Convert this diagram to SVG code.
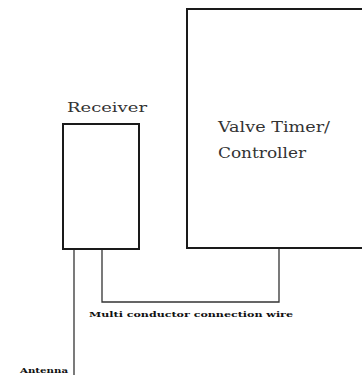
<svg xmlns="http://www.w3.org/2000/svg" width="362" height="381" viewBox="0 0 362 381">
<style>
.box{fill:#fff;stroke:#1a1a1a;stroke-width:2}
.wire{fill:none;stroke:#333;stroke-width:1.3}
.t{font-family:'DejaVu Serif','Liberation Serif',serif;fill:#333}
.s{font-family:'DejaVu Serif','Liberation Serif',serif;fill:#111;font-weight:bold;font-size:8px}
</style>
<rect width="362" height="381" fill="#fff"/>
<g id="connectors">
<polyline class="wire" points="74,249 74,375"/>
<polyline class="wire" points="102,249 102,302 279,302 279,248"/>
</g>
<g id="receiver">
<rect class="box" x="63" y="124" width="76" height="125"/>
<text class="t" x="67" y="112" font-size="13" textLength="80" lengthAdjust="spacingAndGlyphs">Receiver</text>
</g>
<g id="valve">
<rect class="box" x="187" y="9" width="185" height="239"/>
<text class="t" x="218" y="132" font-size="15" textLength="112" lengthAdjust="spacingAndGlyphs">Valve Timer/</text>
<text class="t" x="218" y="158" font-size="15" textLength="88" lengthAdjust="spacingAndGlyphs">Controller</text>
</g>
<g id="labels">
<text class="s" x="89" y="317" textLength="204" lengthAdjust="spacingAndGlyphs">Multi conductor connection wire</text>
<text class="s" x="20" y="373" textLength="48" lengthAdjust="spacingAndGlyphs">Antenna</text>
</g>
</svg>
